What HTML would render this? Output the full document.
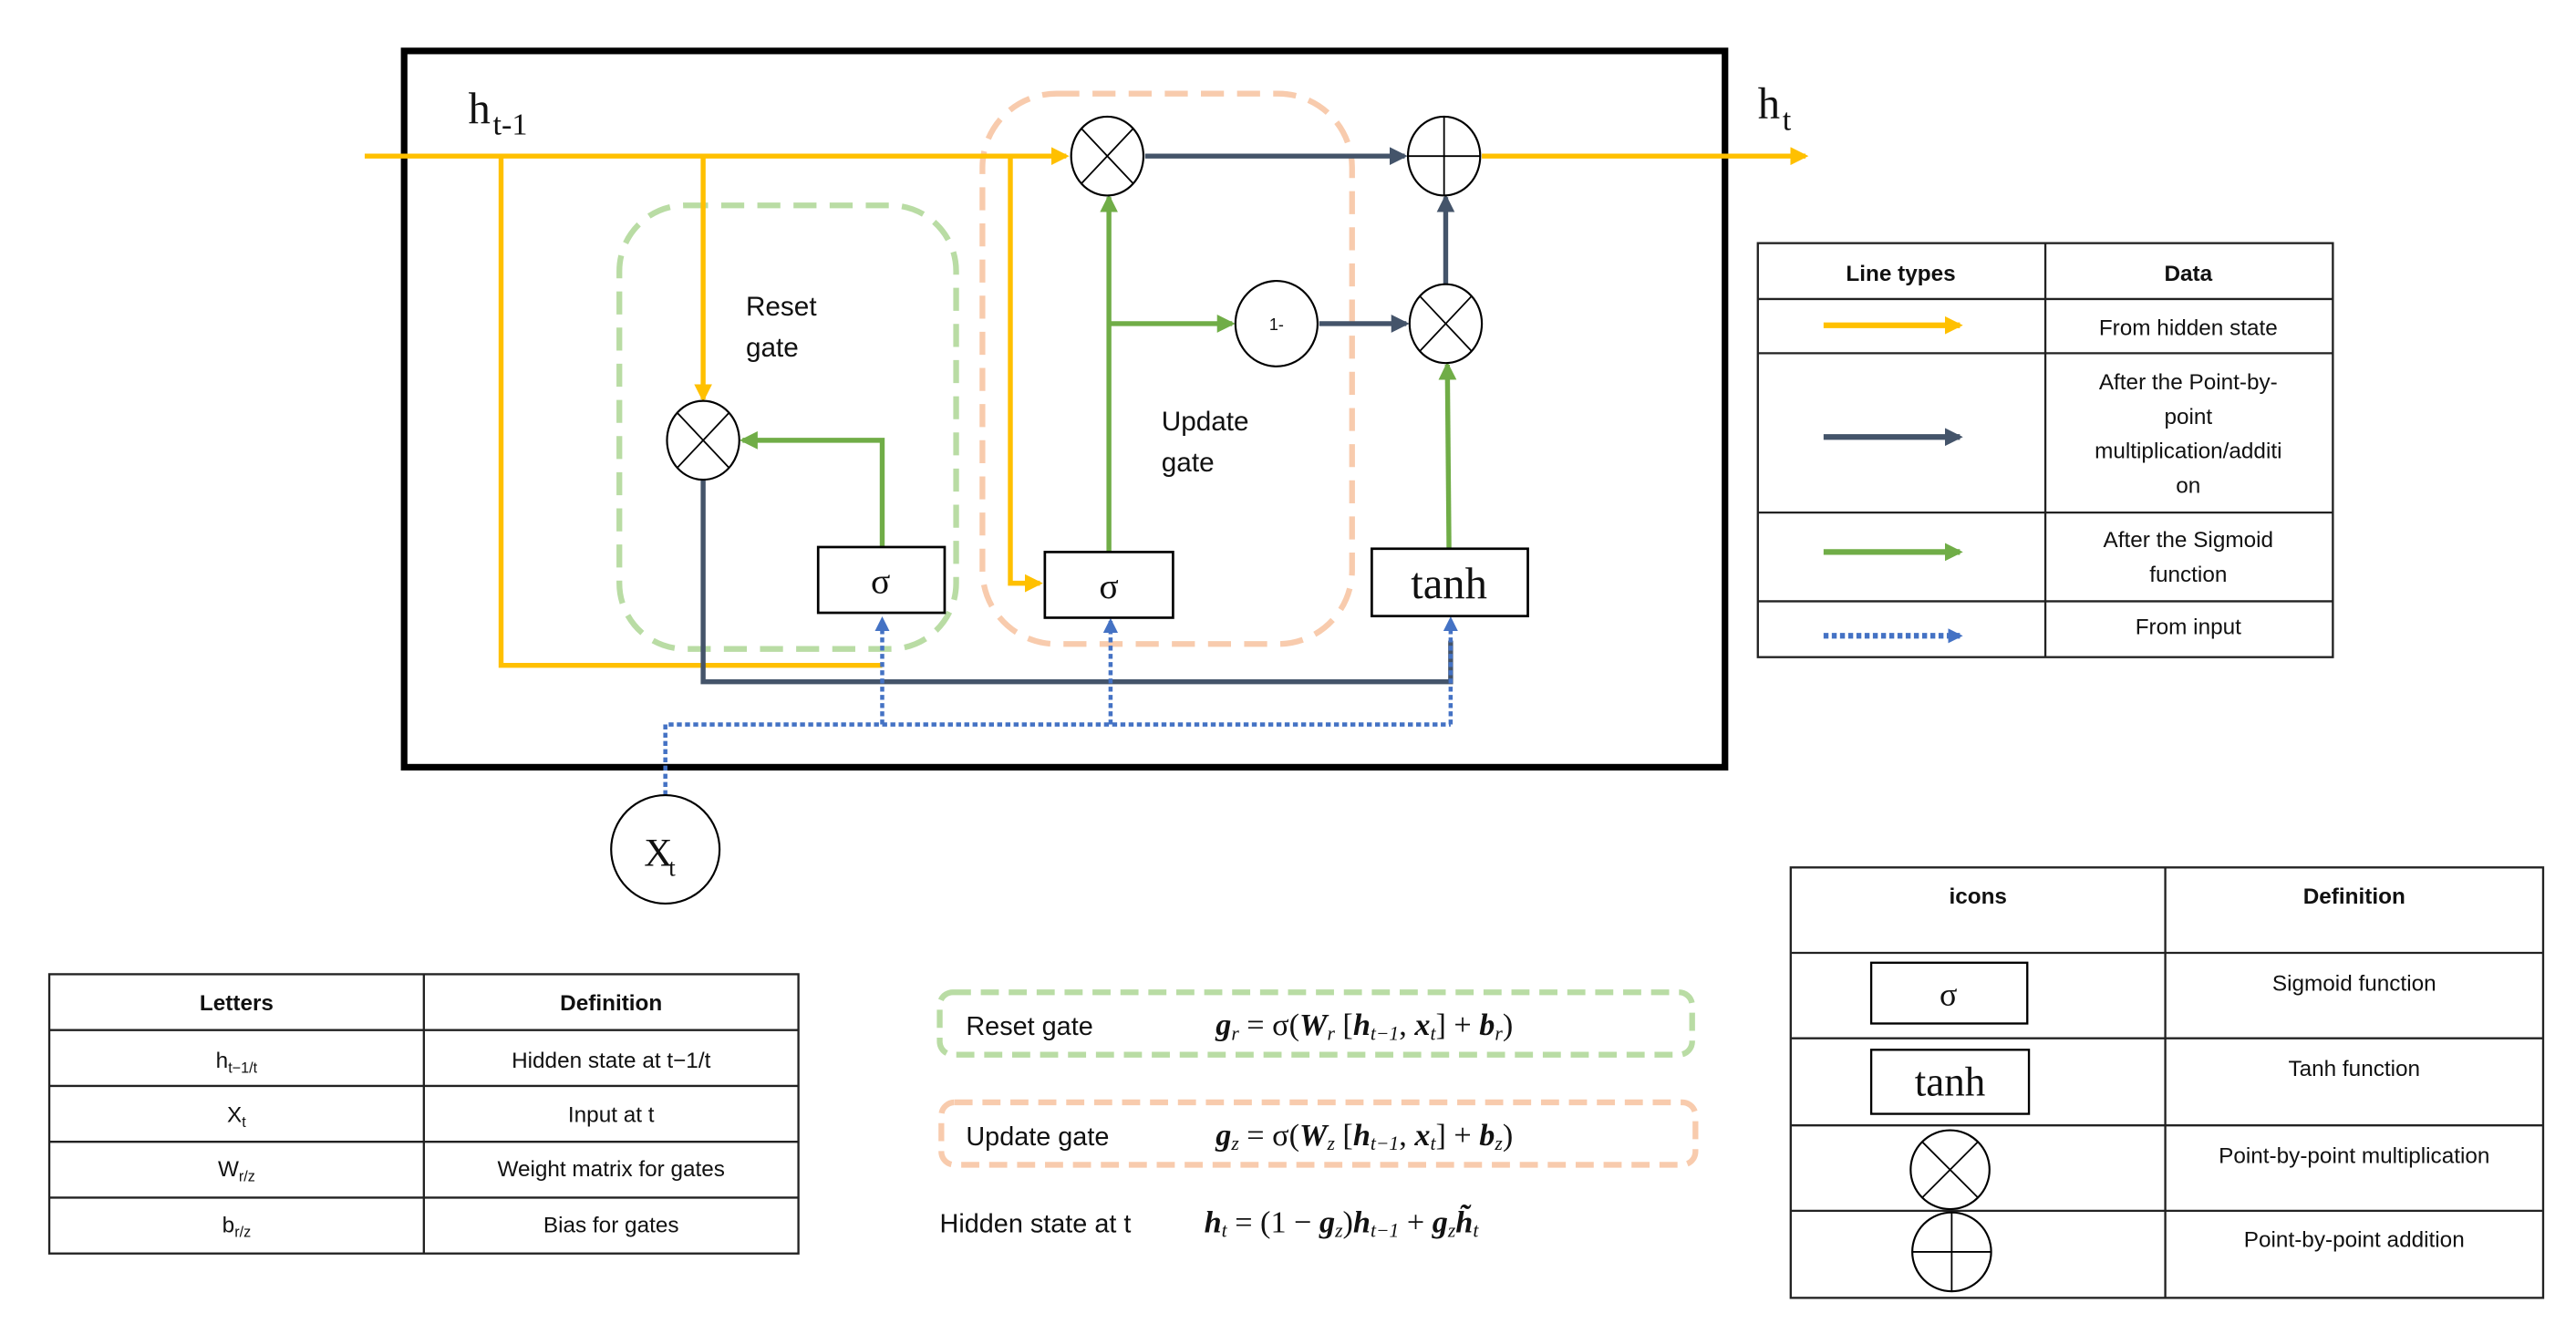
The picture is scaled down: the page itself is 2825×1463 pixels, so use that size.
<!DOCTYPE html>
<html><head><meta charset="utf-8"><style>
html,body{margin:0;padding:0;background:#fff;}
svg{display:block;}
text{font-family:"Liberation Sans",sans-serif;fill:#111;}
.serif{font-family:"Liberation Serif",serif;}
.t{font-size:13.5px;text-anchor:middle;}
.h{font-size:13.5px;font-weight:bold;text-anchor:middle;}
.m{font-family:"Liberation Serif",serif;font-style:italic;font-size:19px;}
</style></head><body>
<svg width="2825" height="1463" viewBox="0 0 1568 812" preserveAspectRatio="none" xmlns="http://www.w3.org/2000/svg">
<defs>
<marker id="ay" markerWidth="11" markerHeight="11" refX="5" refY="3" orient="auto" markerUnits="userSpaceOnUse" viewBox="0 0 6 6"><path d="M0,0 L6,3 L0,6z" fill="#ffc000"/></marker>
<marker id="an" markerWidth="11" markerHeight="11" refX="5" refY="3" orient="auto" markerUnits="userSpaceOnUse" viewBox="0 0 6 6"><path d="M0,0 L6,3 L0,6z" fill="#44546a"/></marker>
<marker id="ag" markerWidth="11" markerHeight="11" refX="5" refY="3" orient="auto" markerUnits="userSpaceOnUse" viewBox="0 0 6 6"><path d="M0,0 L6,3 L0,6z" fill="#70ad47"/></marker>
<marker id="ab" markerWidth="9" markerHeight="9" refX="4" refY="2.5" orient="auto" markerUnits="userSpaceOnUse" viewBox="0 0 5 5"><path d="M0,0 L5,2.5 L0,5z" fill="#4472c4"/></marker>
</defs>

<rect x="246" y="31" width="804" height="436" fill="none" stroke="#000" stroke-width="4"/>

<rect x="377" y="125" width="205" height="270" rx="40" fill="none" stroke="#b9dca4" stroke-width="3.5" stroke-dasharray="14 8"/>
<rect x="598" y="57" width="225" height="335" rx="45" fill="none" stroke="#f8cbad" stroke-width="3.5" stroke-dasharray="14 8"/>

<g stroke="#ffc000" stroke-width="3" fill="none">
<line x1="222" y1="95" x2="649" y2="95" marker-end="url(#ay)"/>
<polyline points="305,95 305,405 537,405"/>
<line x1="428" y1="95" x2="428" y2="243" marker-end="url(#ay)"/>
<polyline points="615,95 615,355 633,355" marker-end="url(#ay)"/>
<line x1="902" y1="95" x2="1099" y2="95" marker-end="url(#ay)"/>
</g>

<g stroke="#44546a" stroke-width="3" fill="none">
<line x1="697" y1="95" x2="855" y2="95" marker-end="url(#an)"/>
<line x1="803" y1="197" x2="856" y2="197" marker-end="url(#an)"/>
<line x1="880" y1="174" x2="880" y2="120" marker-end="url(#an)"/>
<polyline points="428,291 428,415 883,415 883,390"/>
</g>

<g stroke="#70ad47" stroke-width="3" fill="none">
<polyline points="537,333 537,268 452,268" marker-end="url(#ag)"/>
<line x1="675" y1="336" x2="675" y2="120" marker-end="url(#ag)"/>
<line x1="675" y1="197" x2="750" y2="197" marker-end="url(#ag)"/>
<line x1="882" y1="334" x2="881" y2="222" marker-end="url(#ag)"/>
</g>

<g stroke="#4472c4" stroke-width="2.5" fill="none" stroke-dasharray="3 2">
<polyline points="405,484 405,441 883,441"/>
<line x1="537" y1="441" x2="537" y2="377" marker-end="url(#ab)"/>
<line x1="676" y1="441" x2="676" y2="378" marker-end="url(#ab)"/>
<line x1="883" y1="441" x2="883" y2="377" marker-end="url(#ab)"/>
</g>

<g stroke="#000" stroke-width="1.2" fill="#fff">
<ellipse cx="428" cy="268" rx="22" ry="24"/>
<ellipse cx="674" cy="95" rx="22" ry="24"/>
<ellipse cx="880" cy="197" rx="22" ry="24"/>
<ellipse cx="879" cy="95" rx="22" ry="24"/>
<ellipse cx="777" cy="197" rx="25" ry="26"/>
<ellipse cx="405" cy="517" rx="33" ry="33"/>
</g>
<g stroke="#000" stroke-width="1">
<path d="M412,251 L444,285 M444,251 L412,285"/>
<path d="M658,78 L690,112 M690,78 L658,112"/>
<path d="M864,180 L896,214 M896,180 L864,214"/>
<path d="M857,95 L901,95 M879,71 L879,119"/>
</g>
<text x="777" y="201" font-size="10" text-anchor="middle">1-</text>
<text x="392" y="527" class="serif" font-size="24">X</text><text x="407" y="533" class="serif" font-size="15">t</text>

<g stroke="#000" stroke-width="1.5" fill="#fff">
<rect x="498" y="333" width="77" height="40"/>
<rect x="636" y="336" width="78" height="40"/>
<rect x="835" y="334" width="95" height="41"/>
</g>
<text x="536" y="361" class="serif" font-size="22" text-anchor="middle">σ</text>
<text x="675" y="364" class="serif" font-size="22" text-anchor="middle">σ</text>
<text x="882" y="364" class="serif" font-size="27" text-anchor="middle">tanh</text>

<text x="285" y="75" class="serif" font-size="27">h</text><text x="300" y="82" class="serif" font-size="19">t-1</text>
<text x="1070" y="72" class="serif" font-size="27">h</text><text x="1085" y="79" class="serif" font-size="19">t</text>

<text x="454" y="192" font-size="16.5">Reset</text>
<text x="454" y="217" font-size="16.5">gate</text>
<text x="707" y="262" font-size="16.5">Update</text>
<text x="707" y="287" font-size="16.5">gate</text>

<g stroke="#222" stroke-width="1.3" fill="none">
<rect x="1070" y="148" width="350" height="252"/>
<line x1="1245" y1="148" x2="1245" y2="400"/>
<line x1="1070" y1="182" x2="1420" y2="182"/>
<line x1="1070" y1="215" x2="1420" y2="215"/>
<line x1="1070" y1="312" x2="1420" y2="312"/>
<line x1="1070" y1="366" x2="1420" y2="366"/>
</g>
<text x="1157" y="171" class="h">Line types</text>
<text x="1332" y="171" class="h">Data</text>
<line x1="1110" y1="198" x2="1193" y2="198" stroke="#ffc000" stroke-width="3.5" marker-end="url(#ay)"/>
<line x1="1110" y1="266" x2="1193" y2="266" stroke="#44546a" stroke-width="3.5" marker-end="url(#an)"/>
<line x1="1110" y1="336" x2="1193" y2="336" stroke="#70ad47" stroke-width="3.5" marker-end="url(#ag)"/>
<line x1="1110" y1="387" x2="1193" y2="387" stroke="#4472c4" stroke-width="3.5" stroke-dasharray="3 2" marker-end="url(#ab)"/>
<text x="1332" y="204" class="t">From hidden state</text>
<text x="1332" y="237" class="t">After the Point-by-</text>
<text x="1332" y="258" class="t">point</text>
<text x="1332" y="279" class="t">multiplication/additi</text>
<text x="1332" y="300" class="t">on</text>
<text x="1332" y="333" class="t">After the Sigmoid</text>
<text x="1332" y="354" class="t">function</text>
<text x="1332" y="386" class="t">From input</text>

<g stroke="#222" stroke-width="1.3" fill="none">
<rect x="30" y="593" width="456" height="170"/>
<line x1="258" y1="593" x2="258" y2="763"/>
<line x1="30" y1="627" x2="486" y2="627"/>
<line x1="30" y1="661" x2="486" y2="661"/>
<line x1="30" y1="695" x2="486" y2="695"/>
<line x1="30" y1="729" x2="486" y2="729"/>
</g>
<text x="144" y="615" class="h">Letters</text>
<text x="372" y="615" class="h">Definition</text>
<text x="144" y="650" class="t">h<tspan font-size="9" dy="3">t−1/t</tspan></text>
<text x="372" y="650" class="t">Hidden state at t−1/t</text>
<text x="144" y="683" class="t">X<tspan font-size="9" dy="3">t</tspan></text>
<text x="372" y="683" class="t">Input at t</text>
<text x="144" y="716" class="t">W<tspan font-size="9" dy="3">r/z</tspan></text>
<text x="372" y="716" class="t">Weight matrix for gates</text>
<text x="144" y="750" class="t">b<tspan font-size="9" dy="3">r/z</tspan></text>
<text x="372" y="750" class="t">Bias for gates</text>

<rect x="572" y="604" width="458" height="38" rx="8" fill="none" stroke="#b9dca4" stroke-width="3.5" stroke-dasharray="11 6"/>
<rect x="573" y="671" width="459" height="38" rx="8" fill="none" stroke="#f8cbad" stroke-width="3.5" stroke-dasharray="11 6"/>
<text x="588" y="630" font-size="16">Reset gate</text>
<text x="740" y="630" class="m"><tspan font-weight="bold">g</tspan><tspan font-size="12" dy="3">r</tspan><tspan dy="-3" font-style="normal"> = σ(</tspan><tspan font-weight="bold">W</tspan><tspan font-size="12" dy="3">r</tspan><tspan dy="-3" font-style="normal"> [</tspan><tspan font-weight="bold">h</tspan><tspan font-size="12" dy="3">t−1</tspan><tspan dy="-3" font-style="normal">, </tspan><tspan font-weight="bold">x</tspan><tspan font-size="12" dy="3">t</tspan><tspan dy="-3" font-style="normal">] + </tspan><tspan font-weight="bold">b</tspan><tspan font-size="12" dy="3">r</tspan><tspan dy="-3" font-style="normal">)</tspan></text>
<text x="588" y="697" font-size="16">Update gate</text>
<text x="740" y="697" class="m"><tspan font-weight="bold">g</tspan><tspan font-size="12" dy="3">z</tspan><tspan dy="-3" font-style="normal"> = σ(</tspan><tspan font-weight="bold">W</tspan><tspan font-size="12" dy="3">z</tspan><tspan dy="-3" font-style="normal"> [</tspan><tspan font-weight="bold">h</tspan><tspan font-size="12" dy="3">t−1</tspan><tspan dy="-3" font-style="normal">, </tspan><tspan font-weight="bold">x</tspan><tspan font-size="12" dy="3">t</tspan><tspan dy="-3" font-style="normal">] + </tspan><tspan font-weight="bold">b</tspan><tspan font-size="12" dy="3">z</tspan><tspan dy="-3" font-style="normal">)</tspan></text>
<text x="572" y="750" font-size="16">Hidden state at t</text>
<text x="733" y="750" class="m" font-size="21"><tspan font-weight="bold">h</tspan><tspan font-size="12" dy="3">t</tspan><tspan dy="-3" font-style="normal"> = (1 − </tspan><tspan font-weight="bold">g</tspan><tspan font-size="12" dy="3">z</tspan><tspan dy="-3" font-style="normal">)</tspan><tspan font-weight="bold">h</tspan><tspan font-size="12" dy="3">t−1</tspan><tspan dy="-3" font-style="normal"> + </tspan><tspan font-weight="bold">g</tspan><tspan font-size="12" dy="3">z</tspan><tspan dy="-3" font-weight="bold">h̃</tspan><tspan font-size="12" dy="3">t</tspan></text>

<g stroke="#222" stroke-width="1.3" fill="none">
<rect x="1090" y="528" width="458" height="262"/>
<line x1="1318" y1="528" x2="1318" y2="790"/>
<line x1="1090" y1="580" x2="1548" y2="580"/>
<line x1="1090" y1="632" x2="1548" y2="632"/>
<line x1="1090" y1="685" x2="1548" y2="685"/>
<line x1="1090" y1="737" x2="1548" y2="737"/>
</g>
<text x="1204" y="550" class="h">icons</text>
<text x="1433" y="550" class="h">Definition</text>
<rect x="1139" y="586" width="95" height="37" fill="none" stroke="#000" stroke-width="1.3"/>
<text x="1186" y="612" class="serif" font-size="20" text-anchor="middle">σ</text>
<rect x="1139" y="639" width="96" height="39" fill="none" stroke="#000" stroke-width="1.3"/>
<text x="1187" y="667" class="serif" font-size="25" text-anchor="middle">tanh</text>
<ellipse cx="1187" cy="712" rx="24" ry="24" fill="none" stroke="#000" stroke-width="1.2"/>
<path d="M1170,695 L1204,729 M1204,695 L1170,729" stroke="#000"/>
<ellipse cx="1188" cy="762" rx="24" ry="24" fill="none" stroke="#000" stroke-width="1.2"/>
<path d="M1164,762 L1212,762 M1188,738 L1188,786" stroke="#000"/>
<text x="1433" y="603" class="t">Sigmoid function</text>
<text x="1433" y="655" class="t">Tanh function</text>
<text x="1433" y="708" class="t">Point-by-point multiplication</text>
<text x="1433" y="759" class="t">Point-by-point addition</text>
</svg>
</body></html>
